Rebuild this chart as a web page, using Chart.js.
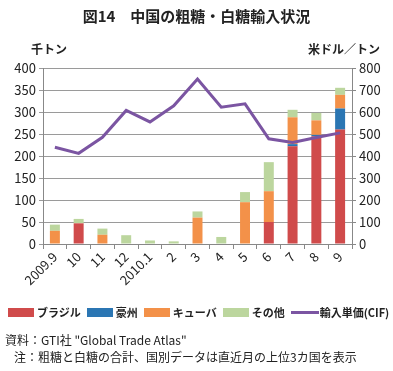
<!DOCTYPE html>
<html>
<head>
<meta charset="utf-8">
<script src="https://cdn.jsdelivr.net/npm/chart.js@4.4.1/dist/chart.umd.min.js"></script>
<style>
  body { margin: 0; width: 393px; height: 371px; position: relative; background: #fff;
         font-family: "Noto Sans CJK JP", "Noto Sans", sans-serif; color: #222; overflow: hidden; }
  #wrap { position: absolute; left: 0; top: 0; width: 393px; height: 371px; }
  .abs { position: absolute; white-space: nowrap; }
  #title { top: 5px; left: 0; width: 393px; text-align: center; font-size: 15px; font-weight: bold; }
  .unit { top: 40px; font-size: 12px; font-weight: bold; }
  #legend { top: 304px; left: 8px; font-size: 11px; font-weight: bold; display: flex; align-items: center; }
  #legend span.box { display: inline-block; width: 26px; height: 9px; margin-right: 3px; }
  #legend span.ln { display: inline-block; width: 28px; height: 3px; margin-right: 1px; }
  #legend .item { display: flex; align-items: center; margin-right: 6px; }
  .note { font-size: 12px; }
</style>
</head>
<body>
<div id="wrap"><canvas id="c" width="393" height="371"></canvas></div>
<div id="title" class="abs">図14　中国の粗糖・白糖輸入状況</div>
<div class="abs unit" style="left:31px">千トン</div>
<div class="abs unit" style="left:308px">米ドル／トン</div>
<div id="legend" class="abs"></div>
<div class="abs note" style="left:5px; top:331px">資料：GTI社 "Global Trade Atlas"</div>
<div class="abs note" style="left:14px; top:348px">注：粗糖と白糖の合計、国別データは直近月の上位3カ国を表示</div>
<script>
const months = ['2009.9', '10', '11', '12', '2010.1', '2', '3', '4', '5', '6', '7', '8', '9'];
const brazil    = [0, 47, 0, 0, 0, 0, 0, 0, 0, 50, 222, 245, 260];
const australia = [0, 0, 0, 0, 0, 0, 0, 0, 0, 0, 5, 3, 48];
const cuba      = [30, 0, 21, 0, 0, 0, 60, 0, 95, 70, 61, 33, 31];
const others    = [14, 10, 14, 20, 8, 6, 14, 16, 23, 66, 17, 17, 16];
const unitPrice = [440, 412, 485, 607, 555, 628, 750, 622, 637, 478, 462, 484, 505];

const colors = { brazil: '#d04b4b', australia: '#2b76b3', cuba: '#f39149', others: '#bcd69e', price: '#7b55a2' };

const legendItems = [
  ['ブラジル', colors.brazil, 'box'],
  ['豪州', colors.australia, 'box'],
  ['キューバ', colors.cuba, 'box'],
  ['その他', colors.others, 'box'],
  ['輸入単価(CIF)', colors.price, 'ln']
];
document.getElementById('legend').innerHTML = legendItems.map(([t, c, k]) =>
  `<div class="item"><span class="${k}" style="background:${c}"></span>${t}</div>`).join('');

const tickFont = { family: '"Noto Sans CJK JP", sans-serif', size: 13 };
const bar = (label, data, color) => ({
  type: 'bar', label, data, backgroundColor: color, yAxisID: 'y',
  barPercentage: 0.42, categoryPercentage: 1, stack: 's', order: 2
});

new Chart(document.getElementById('c'), {
  data: {
    labels: months,
    datasets: [
      bar('ブラジル', brazil, colors.brazil),
      bar('豪州', australia, colors.australia),
      bar('キューバ', cuba, colors.cuba),
      bar('その他', others, colors.others),
      {
        type: 'line', label: '輸入単価(CIF)', data: unitPrice, yAxisID: 'y1',
        borderColor: colors.price, borderWidth: 3, pointRadius: 0, tension: 0, order: 1
      }
    ]
  },
  options: {
    responsive: false,
    animation: false,
    layout: { padding: { top: 68, left: 0, right: 0, bottom: 0 } },
    plugins: { legend: { display: false }, tooltip: { enabled: false } },
    scales: {
      x: {
        stacked: true,
        offset: true,
        grid: { offset: true, drawOnChartArea: false, color: '#888', tickLength: 5 },
        border: { color: '#888', width: 1 },
        ticks: { color: '#222', font: tickFont, maxRotation: 45, minRotation: 45, padding: 0, autoSkip: false },
        afterFit: s => { s.height = 127; }
      },
      y: {
        stacked: true,
        position: 'left',
        min: 0, max: 400,
        grid: { color: '#9a9a9a', tickLength: 4 },
        border: { color: '#888' },
        ticks: { stepSize: 50, color: '#222', font: tickFont, padding: 3 },
        afterFit: s => { s.width = 43; }
      },
      y1: {
        position: 'right',
        min: 0, max: 800,
        grid: { drawOnChartArea: false, color: '#888', tickLength: 4 },
        border: { color: '#888' },
        ticks: { stepSize: 100, color: '#222', font: tickFont, padding: 3 },
        afterFit: s => { s.width = 41; }
      }
    }
  }
});
</script>
</body>
</html>
